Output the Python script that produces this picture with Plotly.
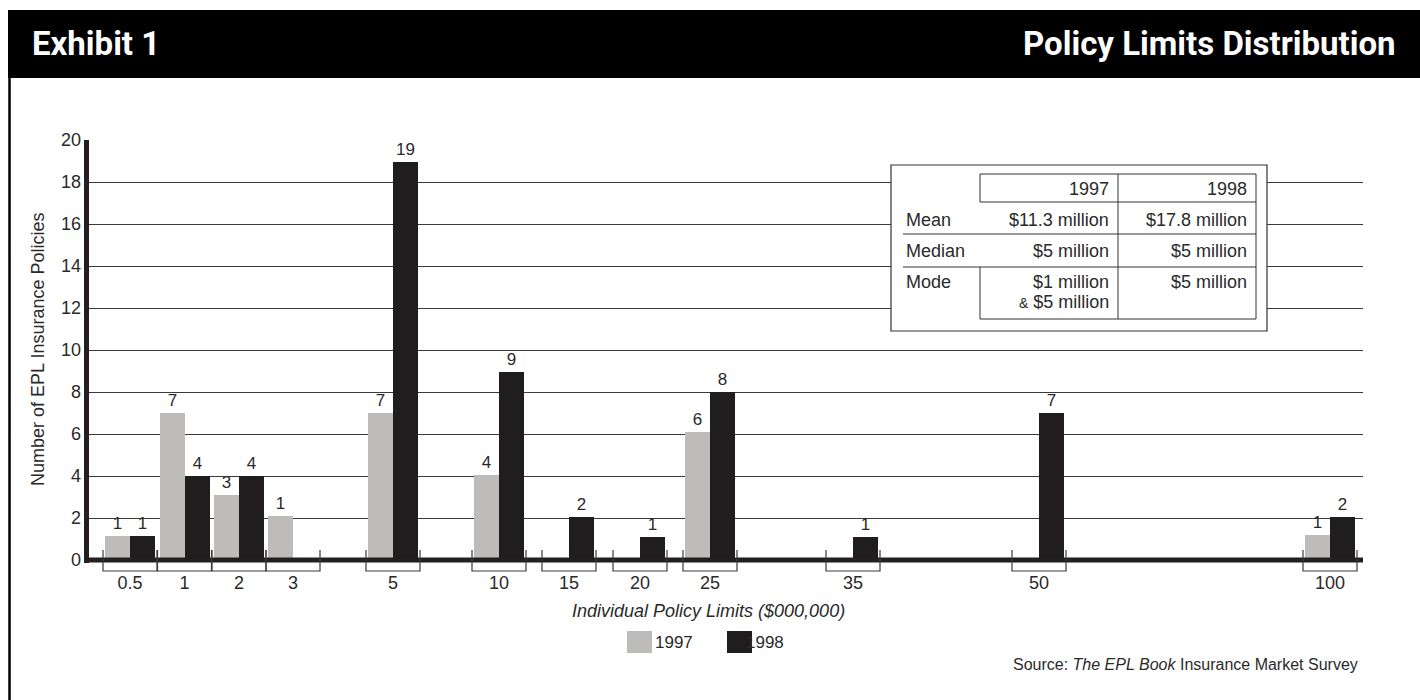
import plotly.graph_objects as go

# ---------------- data ----------------
categories = ["0.5", "1", "2", "3", "5", "10", "15", "20", "25", "35", "50", "100"]
# printed counts above the bars
counts_1997 = [1, 7, 3, 1, 7, 4, None, None, 6, None, None, 1]
counts_1998 = [1, 4, 4, None, 19, 9, 2, 1, 8, 1, 7, 2]
# bar heights as actually drawn in the exhibit
drawn_1997 = [1.14, 7.0, 3.1, 2.1, 7.0, 4.05, None, None, 6.1, None, None, 1.2]
drawn_1998 = [1.14, 4.0, 4.0, None, 18.95, 8.95, 2.05, 1.1, 8.0, 1.1, 7.0, 2.05]
years = ["1997", "1998"]
y_ticks = list(range(0, 21, 2))

table_header = ["1997", "1998"]
table_rows = ["Mean", "Median", "Mode"]
table_1997 = ["$11.3 million", "$5 million", "$1 million"]
table_1997_extra = "& $5 million"
table_1998 = ["$17.8 million", "$5 million", "$5 million"]

# ---------------- layout (pixel geometry) ----------------
W, H = 1420, 700
L, R, T, B = 87, 1363, 140, 560
slot_centers = [130, 184.5, 239, 293, 393, 499, 569, 640, 710, 853, 1039, 1330]
BAR_W = 25
HALF_SLOT = 27

GRAY = "#bdbcba"
BLACK = "#1f1d1d"
AXIS = "#231f20"
TXT = "#2a2a2a"
BODY = "Liberation Sans, Arial, sans-serif"
HEAD = "Roboto, Liberation Sans, sans-serif"


def px(x):
    return (x - L) / (R - L)


def py(y):
    return (B - y) / (B - T)


fig = go.Figure()
fig.add_trace(go.Bar(
    x=slot_centers, y=drawn_1997, width=BAR_W, offset=-BAR_W,
    marker=dict(color=GRAY, line=dict(width=0)), name=years[0],
    text=[("" if c is None else str(c)) for c in counts_1997],
    textposition="outside", cliponaxis=False,
    textfont=dict(family=BODY, size=17, color=TXT), hoverinfo="skip"))
fig.add_trace(go.Bar(
    x=slot_centers, y=drawn_1998, width=BAR_W, offset=0,
    marker=dict(color=BLACK, line=dict(width=0)), name=years[1],
    text=[("" if c is None else str(c)) for c in counts_1998],
    textposition="outside", cliponaxis=False,
    textfont=dict(family=BODY, size=17, color=TXT), hoverinfo="skip"))

shapes = []
annotations = []

# header bar
shapes.append(dict(type="rect", xref="paper", yref="paper",
                   x0=px(8), x1=px(1420), y0=py(78), y1=py(10),
                   fillcolor="black", line=dict(width=0), layer="above"))
# left frame line
shapes.append(dict(type="line", xref="paper", yref="paper",
                   x0=px(9.5), x1=px(9.5), y0=py(78), y1=py(700),
                   line=dict(color="black", width=2.5), layer="above"))
annotations.append(dict(text="<b>Exhibit 1</b>", xref="paper", yref="paper",
                        x=px(30), y=py(44), xanchor="left", yanchor="middle",
                        showarrow=False, font=dict(family=HEAD, size=33, color="white")))
annotations.append(dict(text="<b>Policy Limits Distribution</b>", xref="paper", yref="paper",
                        x=px(1398), y=py(44), xanchor="right", yanchor="middle",
                        showarrow=False, font=dict(family=HEAD, size=33, color="white")))

# axis lines
shapes.append(dict(type="line", xref="paper", yref="paper",
                   x0=px(86.5), x1=px(86.5), y0=py(563), y1=py(140),
                   line=dict(color=AXIS, width=5), layer="above"))
shapes.append(dict(type="line", xref="paper", yref="paper",
                   x0=px(84), x1=px(1363), y0=py(560), y1=py(560),
                   line=dict(color=AXIS, width=5), layer="above"))

# category brackets
for c in slot_centers:
    shapes.append(dict(type="path", xref="x", yref="paper",
                       path=f"M {c-HALF_SLOT},{py(550)} L {c-HALF_SLOT},{py(571)} "
                            f"L {c+HALF_SLOT},{py(571)} L {c+HALF_SLOT},{py(550)}",
                       line=dict(color="#3a3a3a", width=1.2), layer="above"))

# axis titles
annotations.append(dict(text="Number of EPL Insurance Policies", xref="paper", yref="paper",
                        x=px(38), y=py(350), textangle=-90, showarrow=False,
                        xanchor="center", yanchor="middle",
                        font=dict(family=BODY, size=18, color=TXT)))
annotations.append(dict(text="<i>Individual Policy Limits ($000,000)</i>", xref="paper", yref="paper",
                        x=px(708), y=py(611), showarrow=False,
                        xanchor="center", yanchor="middle",
                        font=dict(family=BODY, size=18, color=TXT)))

# legend
for (x0, col, lab, tx) in [(627, GRAY, years[0], 653), (727, BLACK, years[1], 744)]:
    shapes.append(dict(type="rect", xref="paper", yref="paper",
                       x0=px(x0), x1=px(x0 + 25), y0=py(653), y1=py(631),
                       fillcolor=col, line=dict(width=0), layer="above"))
    annotations.append(dict(text=lab, xref="paper", yref="paper",
                            x=px(tx), y=py(642), showarrow=False,
                            xanchor="left", yanchor="middle",
                            font=dict(family=BODY, size=17, color=TXT)))

# source
annotations.append(dict(text="Source: <i>The EPL Book</i> Insurance Market Survey",
                        xref="paper", yref="paper", x=px(1360), y=py(664),
                        showarrow=False, xanchor="right", yanchor="middle",
                        font=dict(family=BODY, size=16, color=TXT)))

# statistics table
TL = "#333333"
shapes.append(dict(type="rect", xref="paper", yref="paper",
                   x0=px(891), x1=px(1267), y0=py(331), y1=py(165),
                   fillcolor="white", line=dict(color=TL, width=1.2), layer="above"))


def hline(x0, x1, y):
    shapes.append(dict(type="line", xref="paper", yref="paper",
                       x0=px(x0), x1=px(x1), y0=py(y), y1=py(y),
                       line=dict(color=TL, width=1), layer="above"))


def vline(x, y0, y1):
    shapes.append(dict(type="line", xref="paper", yref="paper",
                       x0=px(x), x1=px(x), y0=py(y0), y1=py(y1),
                       line=dict(color=TL, width=1), layer="above"))


hline(980, 1256, 174)
hline(980, 1256, 202)
hline(903, 1256, 234)
hline(903, 1256, 267)
hline(980, 1256, 319)
vline(980, 174, 202)
vline(980, 267, 319)
vline(1118, 174, 319)
vline(1256, 174, 319)

tfont = dict(family=BODY, size=18, color=TXT)
annotations.append(dict(text=table_header[0], xref="paper", yref="paper", x=px(1111), y=py(189),
                        xanchor="right", yanchor="middle", showarrow=False, font=tfont))
annotations.append(dict(text=table_header[1], xref="paper", yref="paper", x=px(1249), y=py(189),
                        xanchor="right", yanchor="middle", showarrow=False, font=tfont))
for lab, v7, v8, yc in zip(table_rows, table_1997, table_1998, [220, 251, 282]):
    annotations.append(dict(text=lab, xref="paper", yref="paper", x=px(904), y=py(yc),
                            xanchor="left", yanchor="middle", showarrow=False, font=tfont))
    annotations.append(dict(text=v7, xref="paper", yref="paper", x=px(1111), y=py(yc),
                            xanchor="right", yanchor="middle", showarrow=False, font=tfont))
    annotations.append(dict(text=v8, xref="paper", yref="paper", x=px(1249), y=py(yc),
                            xanchor="right", yanchor="middle", showarrow=False, font=tfont))
annotations.append(dict(text="<span style='font-size:14px'>&amp;</span> $5 million",
                        xref="paper", yref="paper", x=px(1111), y=py(302),
                        xanchor="right", yanchor="middle", showarrow=False, font=tfont))

fig.update_layout(
    width=W, height=H,
    margin=dict(l=L, r=W - R, t=T, b=H - B, pad=0),
    paper_bgcolor="white", plot_bgcolor="white",
    barmode="overlay", bargap=0, showlegend=False,
    xaxis=dict(range=[L, R], tickvals=slot_centers, ticktext=categories,
               showgrid=False, zeroline=False, showline=False, ticks="",
               ticklabelstandoff=10,
               tickfont=dict(family=BODY, size=18, color=TXT)),
    yaxis=dict(range=[0, 20], tickvals=y_ticks, showgrid=True,
               gridcolor="#3a3a3a", gridwidth=1, zeroline=False, showline=False,
               ticks="", ticklabelstandoff=5,
               tickfont=dict(family=BODY, size=18, color=TXT)),
    shapes=shapes, annotations=annotations,
)

fig.write_html("out.html")
